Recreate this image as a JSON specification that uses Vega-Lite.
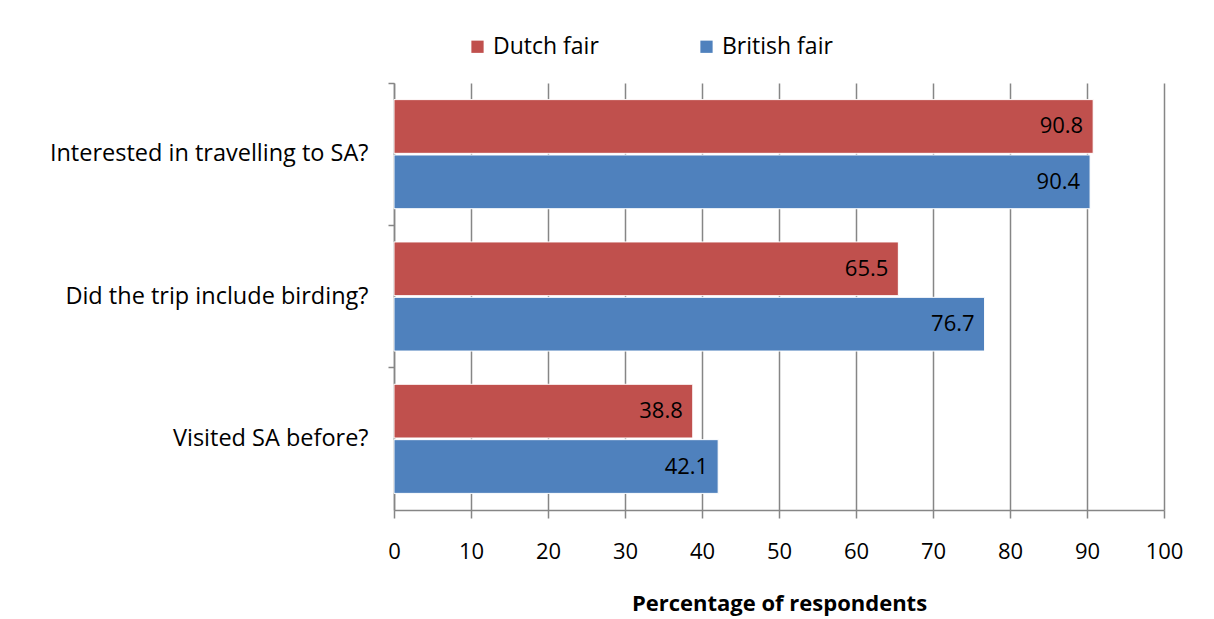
{
  "$schema": "https://vega.github.io/schema/vega-lite/v6.json",
  "autosize": {"type": "none"},
  "padding": {"left": 394, "top": 83, "right": 50, "bottom": 109},
  "width": 770,
  "height": 427,
  "background": "white",
  "config": {
    "font": "Open Sans",
    "view": {"stroke": null},
    "axis": {"labelFont": "Open Sans", "titleFont": "Open Sans", "labelColor": "#000000", "titleColor": "#000000"}
  },
  "data": {
    "values": [
      {"question": "Interested in travelling to SA?", "fair": "Dutch fair", "pct": 90.8},
      {"question": "Interested in travelling to SA?", "fair": "British fair", "pct": 90.4},
      {"question": "Did the trip include birding?", "fair": "Dutch fair", "pct": 65.5},
      {"question": "Did the trip include birding?", "fair": "British fair", "pct": 76.7},
      {"question": "Visited SA before?", "fair": "Dutch fair", "pct": 38.8},
      {"question": "Visited SA before?", "fair": "British fair", "pct": 42.1}
    ]
  },
  "encoding": {
    "y": {
      "field": "question",
      "type": "nominal",
      "sort": ["Interested in travelling to SA?", "Did the trip include birding?", "Visited SA before?"],
      "scale": {"paddingInner": 0, "paddingOuter": 0}
    },
    "yOffset": {
      "field": "fair",
      "type": "nominal",
      "sort": ["Dutch fair", "British fair"],
      "scale": {"paddingInner": 0.03, "paddingOuter": 0.3}
    },
    "x": {
      "field": "pct",
      "type": "quantitative",
      "scale": {"domain": [0, 100], "nice": false},
      "axis": {
        "title": "Percentage of respondents",
        "titleFontSize": 22,
        "titleFontWeight": "bold",
        "titlePadding": 31,
        "values": [0, 10, 20, 30, 40, 50, 60, 70, 80, 90, 100],
        "labelFontSize": 22,
        "labelPadding": 23,
        "tickSize": 8,
        "tickColor": "#868686",
        "tickWidth": 1.5,
        "domainColor": "#868686",
        "domainWidth": 1.5,
        "grid": true,
        "gridColor": "#868686",
        "gridWidth": 1.5,
        "labelFlush": false
      }
    }
  },
  "layer": [
    {
      "mark": {"type": "bar", "stroke": "white", "strokeWidth": 1},
      "encoding": {
        "y": {
          "field": "question",
          "type": "nominal",
          "sort": ["Interested in travelling to SA?", "Did the trip include birding?", "Visited SA before?"],
          "axis": {
            "title": null,
            "labelFontSize": 23.5,
            "labelPadding": 26,
            "labelLimit": 400,
            "ticks": false,
            "domainColor": "#868686",
            "domainWidth": 1.5
          }
        },
        "color": {
          "field": "fair",
          "type": "nominal",
          "sort": ["Dutch fair", "British fair"],
          "scale": {"domain": ["Dutch fair", "British fair"], "range": ["#C0504D", "#4F81BD"]},
          "legend": {
            "title": null,
            "orient": "none",
            "legendX": 72,
            "legendY": -48,
            "direction": "horizontal",
            "columns": 2,
            "columnPadding": 96,
            "symbolType": "square",
            "symbolSize": 150,
            "symbolStrokeWidth": 0,
            "labelFontSize": 23,
            "labelFont": "Open Sans",
            "labelColor": "#000000",
            "labelOffset": 4
          }
        }
      }
    },
    {
      "mark": {"type": "text", "align": "right", "baseline": "middle", "dx": -10, "fontSize": 22, "font": "Open Sans", "color": "#000000"},
      "encoding": {
        "y": {
          "field": "question",
          "type": "nominal",
          "sort": ["Interested in travelling to SA?", "Did the trip include birding?", "Visited SA before?"],
          "axis": {
            "orient": "left",
            "title": null,
            "bandPosition": 0,
            "labels": false,
            "domain": false,
            "ticks": true,
            "tickSize": 6,
            "tickColor": "#868686",
            "tickWidth": 1.5,
            "offset": 0
          }
        },
        "text": {"field": "pct", "type": "quantitative", "format": ".1f"}
      }
    }
  ],
  "resolve": {"axis": {"y": "independent"}}
}
